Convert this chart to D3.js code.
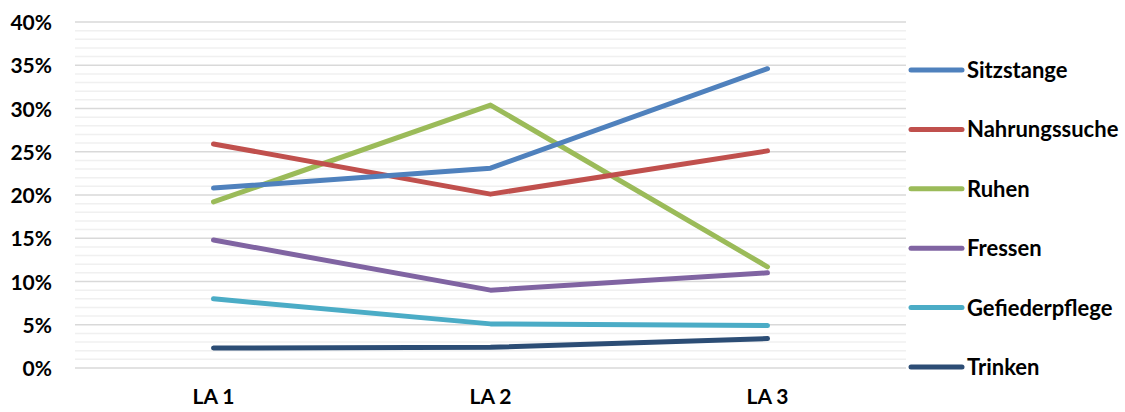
<!DOCTYPE html>
<html>
<head>
<meta charset="utf-8">
<script src="https://cdn.jsdelivr.net/npm/d3@7"></script>
<style>
  body { margin: 0; background: #fff; }
  text { font-family: Lato, "Open Sans", sans-serif; font-weight: bold; fill: #000; }
</style>
</head>
<body>
<svg id="chart" width="1125" height="412"></svg>
<script>
const svg = d3.select("#chart");

const categories = ["LA 1", "LA 2", "LA 3"];
const seriesNames = ["Sitzstange", "Nahrungssuche", "Ruhen", "Fressen", "Gefiederpflege", "Trinken"];
const sitzstange = [20.8, 23.1, 34.6];
const nahrungssuche = [25.9, 20.1, 25.1];
const ruhen = [19.2, 30.4, 11.7];
const fressen = [14.8, 9.0, 11.0];
const gefiederpflege = [8.0, 5.1, 4.9];
const trinken = [2.3, 2.4, 3.4];
const yTicks = [0, 5, 10, 15, 20, 25, 30, 35, 40];
const colors = ["#4f81bd", "#c0504d", "#9bbb59", "#8064a2", "#4bacc6", "#2c4d75"];

const series = [sitzstange, nahrungssuche, ruhen, fressen, gefiederpflege, trinken]
    .map((vals, i) => ({name: seriesNames[i], values: vals, color: colors[i]}));

let xscale = d3.scaleBand()
            .domain(categories)
            .range([75, 906]);

let yscale = d3.scaleLinear()
            .domain([0, 40])
            .range([368, 22]);

// minor gridlines every 1%
svg.append("g").selectAll("line")
    .data(d3.range(0, 41).filter(v => v % 5 != 0))
    .join("line")
    .attr("x1", 75).attr("x2", 906)
    .attr("y1", d => yscale(d)).attr("y2", d => yscale(d))
    .attr("stroke", "#f0f0f0")
    .attr("stroke-width", 1.5);

// major gridlines
svg.append("g").selectAll("line")
    .data(yTicks)
    .join("line")
    .attr("x1", 75).attr("x2", 906)
    .attr("y1", d => yscale(d)).attr("y2", d => yscale(d))
    .attr("stroke", "#d9d9d9")
    .attr("stroke-width", 1.5);

const yAxis = svg.append("g")
    .attr("transform", "translate(57,0)")
    .call(d3.axisLeft(yscale).tickValues(yTicks).tickFormat(d => d + "%").tickSize(0).tickPadding(5));
yAxis.select(".domain").remove();
yAxis.selectAll("text").style("font-size", "21px").style("font-family", "Lato").attr("dy", "0.36em");

const xAxis = svg.append("g")
    .attr("transform", "translate(0,383)")
    .call(d3.axisBottom(xscale).tickSize(0).tickPadding(6));
xAxis.select(".domain").remove();
xAxis.selectAll("text").style("font-size", "21px").style("font-family", "Lato");

const line = d3.line()
    .x((d, i) => xscale(categories[i]) + xscale.bandwidth() / 2)
    .y(d => yscale(d));

svg.append("g").selectAll("path")
    .data(series.slice().reverse())
    .join("path")
    .attr("d", d => line(d.values))
    .attr("fill", "none")
    .attr("stroke", d => d.color)
    .attr("stroke-width", 5)
    .attr("stroke-linecap", "round")
    .attr("stroke-linejoin", "round");

// legend
const legend = svg.append("g").selectAll("g")
    .data(series)
    .join("g")
    .attr("transform", (d, i) => `translate(0,${70 + i * 59.4})`);
legend.append("line")
    .attr("x1", 911).attr("x2", 962)
    .attr("stroke", d => d.color)
    .attr("stroke-width", 5)
    .attr("stroke-linecap", "round");
legend.append("text")
    .attr("x", 967)
    .attr("dy", "0.36em")
    .style("font-size", "22px")
    .text(d => d.name);
</script>
</body>
</html>
